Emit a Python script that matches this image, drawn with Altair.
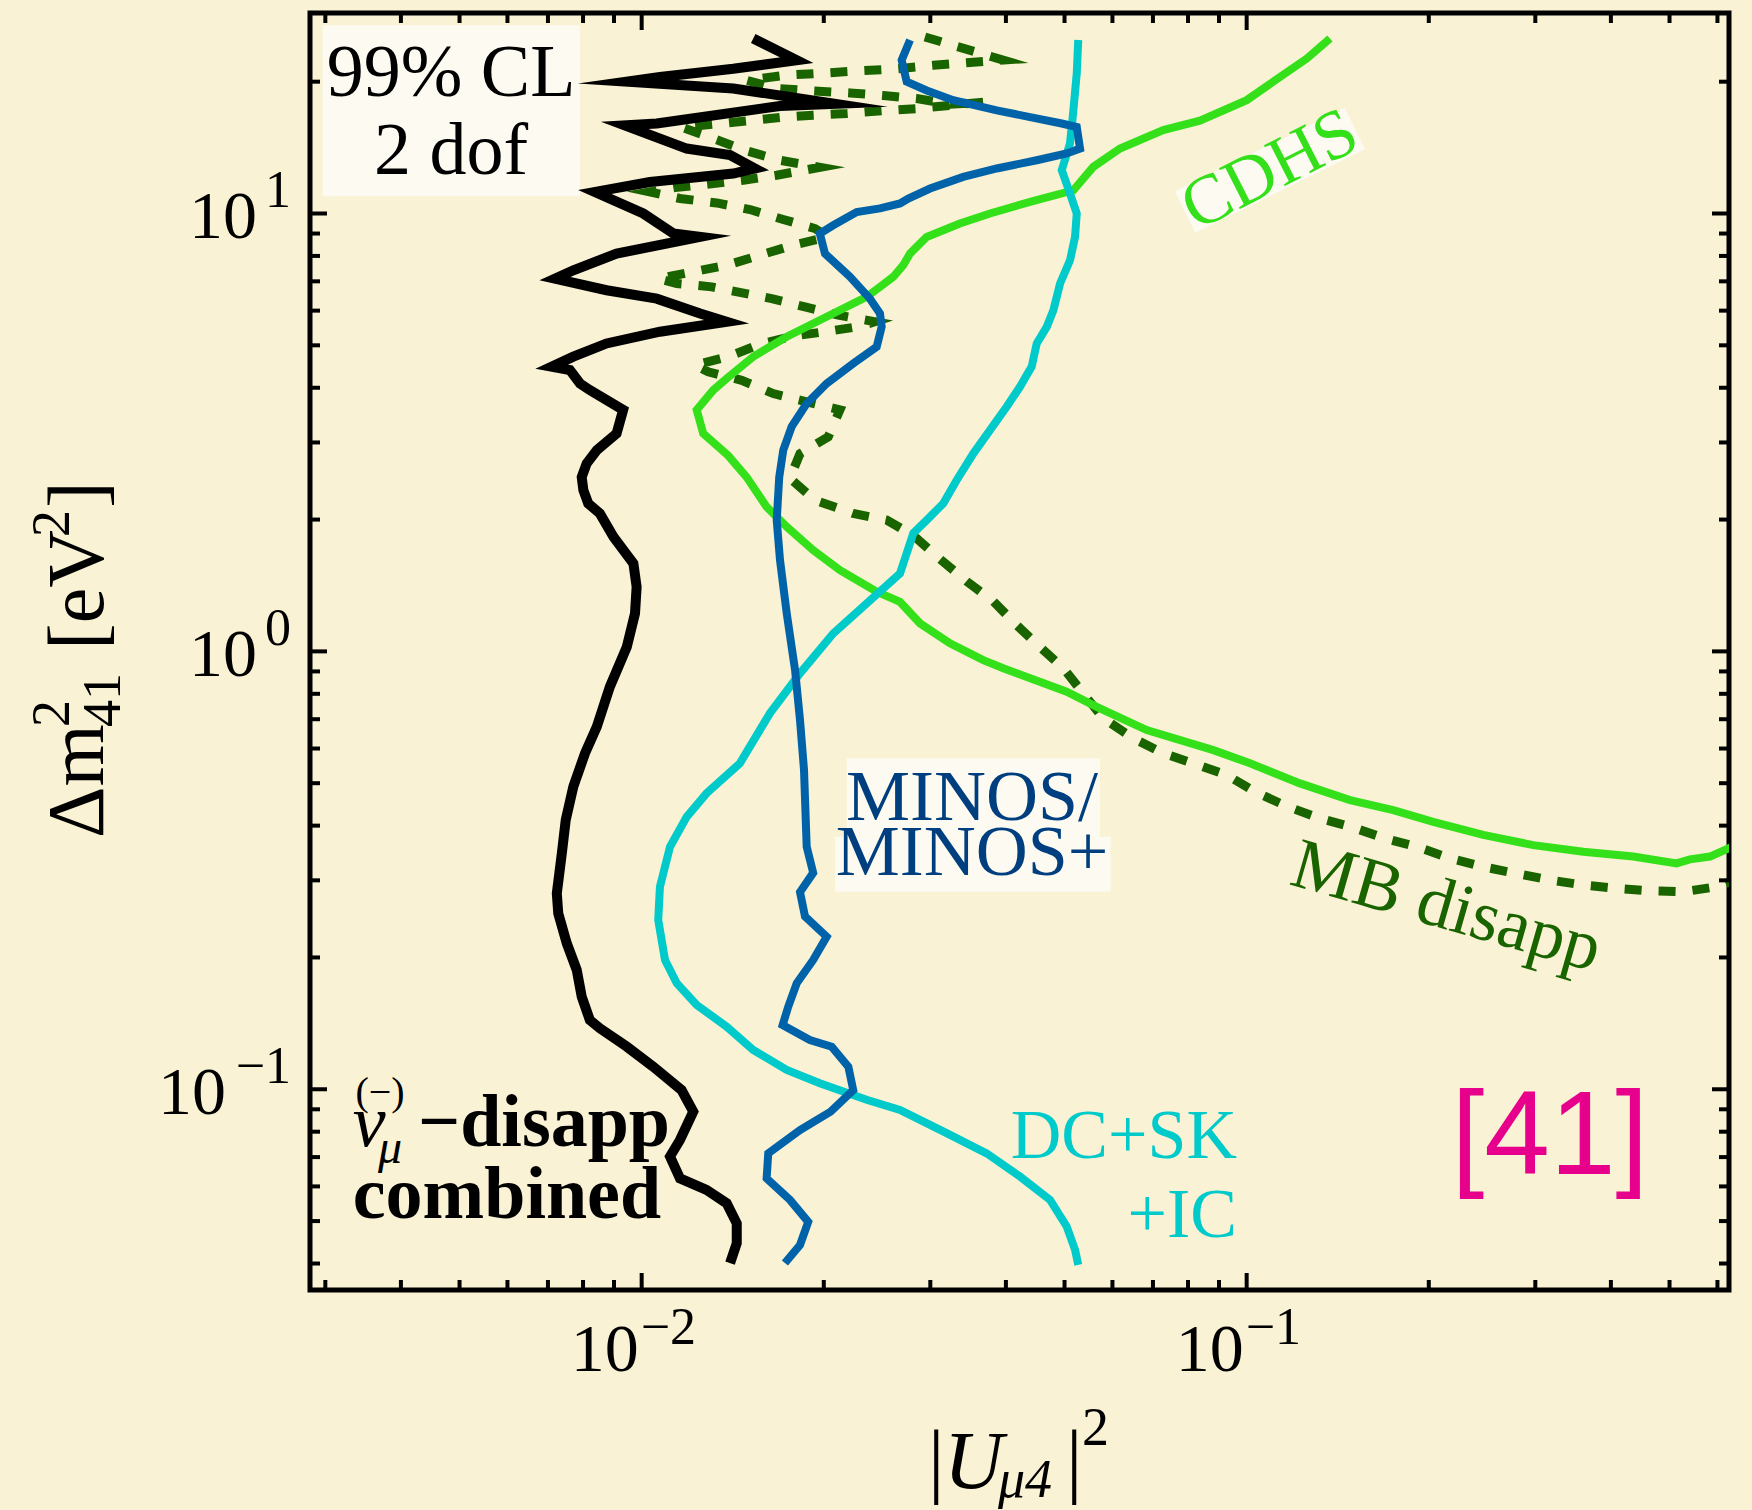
import altair as alt
import pandas as pd

# Exclusion contours at 99% CL (2 dof) in the (|U_mu4|^2, Delta m^2_41) plane.
combined_u = [0.01529, 0.01804, 0.01417, 0.01072, 0.00945, 0.01417, 0.02087, 0.01693, 0.01059, 0.00938,
              0.01187, 0.01400, 0.01539, 0.01417, 0.01032, 0.00837, 0.01006, 0.01128, 0.01249, 0.00909,
              0.00771, 0.00719, 0.00875, 0.01059, 0.01249, 0.01382, 0.01072, 0.00875, 0.00771, 0.00710,
              0.00761, 0.00791, 0.00821, 0.00932, 0.00909, 0.00843, 0.00811, 0.00796, 0.00801, 0.00816,
              0.00853, 0.00898, 0.00969, 0.00981, 0.00975, 0.00945, 0.00886, 0.00843, 0.00806, 0.00771,
              0.00749, 0.00738, 0.00724, 0.00728, 0.00752, 0.00781, 0.00796, 0.00821, 0.00853, 0.00945,
              0.01045, 0.01164, 0.01217, 0.01157, 0.01114, 0.01157, 0.01280, 0.01382, 0.01436, 0.01436,
              0.01400]
combined_dm2 = [25.1, 22.4, 21.4, 20.5, 20.0, 19.3, 17.8, 17.6, 16.05, 15.9,
                14.07, 13.59, 12.67, 12.34, 11.80, 11.2, 10.0, 9.0, 8.84, 8.10,
                7.42, 7.10, 6.68, 6.39, 5.91, 5.66, 5.37, 5.05, 4.71, 4.47,
                4.39, 4.09, 3.95, 3.56, 3.145, 2.88, 2.685, 2.50, 2.335, 2.177,
                2.065, 1.827, 1.588, 1.404, 1.221, 1.024, 0.830, 0.673, 0.585, 0.491,
                0.412, 0.346, 0.280, 0.2522, 0.2154, 0.1873, 0.1627, 0.1439, 0.1378, 0.1251,
                0.1126, 0.0996, 0.0889, 0.0766, 0.0702, 0.0626, 0.0589, 0.0549, 0.0494, 0.0445,
                0.0401]

minos_u = [0.02777, 0.02690, 0.02742, 0.02959, 0.03273, 0.03863, 0.04385, 0.04947, 0.05238, 0.05304,
           0.05041, 0.04498, 0.03863, 0.03400, 0.02997, 0.02759, 0.02673, 0.02477, 0.02267, 0.02073,
           0.01970, 0.02009, 0.02210, 0.02384, 0.02477, 0.02493, 0.02446, 0.02237, 0.02022, 0.01874,
           0.01770, 0.01714, 0.01688, 0.01672, 0.01693, 0.01737, 0.01793, 0.01827, 0.01855, 0.01874,
           0.01921, 0.01827, 0.01862, 0.02022, 0.01921, 0.01804, 0.01747, 0.01710, 0.01897, 0.02061,
           0.02196, 0.02237, 0.02053, 0.01827, 0.01619, 0.01609, 0.01758, 0.01885, 0.01827, 0.01725]
minos_dm2 = [24.9, 22.4, 20.0, 19.1, 18.15, 17.2, 16.6, 16.05, 15.76, 14.07,
             13.71, 13.23, 12.67, 12.12, 11.40, 10.82, 10.54, 10.27, 10.08, 9.40,
             9.00, 8.10, 7.17, 6.39, 5.91, 5.51, 4.96, 4.545, 4.09, 3.68,
             3.26, 2.88, 2.50, 1.994, 1.617, 1.221, 0.906, 0.697, 0.536, 0.358,
             0.312, 0.282, 0.248, 0.2231, 0.1974, 0.1746, 0.1544, 0.1402, 0.1296, 0.1251,
             0.1126, 0.0996, 0.0889, 0.0807, 0.0714, 0.0626, 0.0559, 0.0498, 0.0441, 0.0401]

atm_u = [0.05268, 0.05238, 0.05171, 0.05105, 0.04947, 0.05105, 0.05238, 0.05204, 0.05105, 0.04916,
         0.04792, 0.04673, 0.04498, 0.04413, 0.04220, 0.04011, 0.03765, 0.03533, 0.03316, 0.03151,
         0.02959, 0.02812, 0.02673, 0.02354, 0.02073, 0.01827, 0.01629, 0.01453, 0.01280, 0.01187,
         0.01114, 0.01072, 0.01065, 0.01093, 0.01143, 0.01233, 0.01382, 0.01529, 0.01737, 0.01970,
         0.02354, 0.02673, 0.03192, 0.03717, 0.04220, 0.04732, 0.05041, 0.05204, 0.05268]
atm_dm2 = [24.9, 20.9, 17.2, 14.45, 12.56, 11.11, 10.0, 8.84, 7.82, 6.92,
           6.01, 5.51, 5.05, 4.47, 4.02, 3.62, 3.20, 2.83, 2.46, 2.177,
           1.994, 1.861, 1.506, 1.287, 1.099, 0.891, 0.722, 0.555, 0.474, 0.419,
           0.358, 0.290, 0.2435, 0.1974, 0.1746, 0.1558, 0.139, 0.1230, 0.1107, 0.1032,
           0.0946, 0.0897, 0.0794, 0.0714, 0.0632, 0.0559, 0.0486, 0.0430, 0.0397]

cdhs_u = [0.1373, 0.1258, 0.1135, 0.1000, 0.0837, 0.0728, 0.06175, 0.05578, 0.05171, 0.04385,
          0.03765, 0.03357, 0.02959, 0.02777, 0.02706, 0.02606, 0.02477, 0.02354, 0.02022, 0.01737,
          0.01529, 0.01382, 0.01313, 0.01233, 0.01264, 0.01390, 0.01491, 0.01609, 0.01737, 0.01921,
          0.02127, 0.02446, 0.02673, 0.02884, 0.03233, 0.03670, 0.03960, 0.05041, 0.05651, 0.06836,
          0.0881, 0.1013, 0.1225, 0.1482, 0.1747, 0.2034, 0.2461, 0.2977, 0.3601, 0.4355,
          0.5136, 0.5403, 0.5832, 0.64]
cdhs_dm2 = [25.1, 22.6, 20.5, 18.15, 16.3, 15.5, 14.07, 12.78, 11.30, 10.63,
            10.0, 9.49, 8.84, 8.10, 7.62, 7.17, 6.80, 6.45, 5.81, 5.23,
            4.71, 4.20, 3.95, 3.56, 3.145, 2.80, 2.50, 2.138, 1.925, 1.703,
            1.533, 1.368, 1.297, 1.159, 1.043, 0.955, 0.915, 0.809, 0.747, 0.661,
            0.595, 0.555, 0.4995, 0.4575, 0.434, 0.408, 0.381, 0.361, 0.3487, 0.340,
            0.328, 0.335, 0.340, 0.360]

mb_u = [0.02939, 0.03960, 0.03444, 0.03034, 0.02639, 0.02324, 0.01970, 0.01737, 0.01491, 0.01672,
        0.01921, 0.02210, 0.02508, 0.02848, 0.03233, 0.03670, 0.02848, 0.02508, 0.02182, 0.01921,
        0.01693, 0.01491, 0.01313, 0.01164, 0.01313, 0.01491, 0.01693, 0.01970, 0.01672, 0.01472,
        0.01280, 0.01135, 0.01032, 0.01157, 0.01330, 0.01510, 0.01714, 0.01934, 0.02034, 0.01781,
        0.01569, 0.01382, 0.01217, 0.01065, 0.01143, 0.01305, 0.01481, 0.01640, 0.01862, 0.02113,
        0.02430, 0.02310, 0.02009, 0.01781, 0.01569, 0.01390, 0.01225, 0.01288, 0.01463, 0.01650,
        0.01874, 0.02127, 0.02034, 0.01827, 0.01758, 0.01934, 0.02237, 0.02541, 0.02812, 0.03112,
        0.03444, 0.03812, 0.04167, 0.04553, 0.04978, 0.05370, 0.05794, 0.06497, 0.0728, 0.08165,
        0.0927, 0.1032, 0.1164, 0.1322, 0.1500, 0.1693, 0.1910, 0.2168, 0.2461, 0.2795,
        0.3171, 0.3601, 0.4089, 0.4642, 0.5267, 0.5983, 0.627]
mb_dm2 = [25.3, 22.4, 22.1, 21.8, 21.4, 21.2, 20.9, 20.7, 20.15, 19.3,
          19.05, 18.85, 18.6, 18.3, 17.77, 17.96, 17.36, 17.17, 16.92, 16.77,
          16.57, 16.27, 15.99, 15.74, 14.83, 13.90, 13.23, 12.75, 12.23, 11.91,
          11.66, 11.46, 11.2, 10.82, 10.57, 10.21, 9.69, 9.24, 8.84, 8.47,
          8.03, 7.62, 7.36, 7.10, 6.92, 6.80, 6.57, 6.39, 6.12, 5.86,
          5.66, 5.53, 5.37, 5.25, 5.03, 4.71, 4.505, 4.35, 4.16, 3.88,
          3.715, 3.56, 3.09, 2.83, 2.485, 2.215, 2.065, 1.994, 1.84, 1.625,
          1.446, 1.302, 1.148, 1.024, 0.915, 0.802, 0.703, 0.633, 0.585, 0.555,
          0.522, 0.478, 0.443, 0.4156, 0.396, 0.374, 0.358, 0.337, 0.322, 0.311,
          0.3005, 0.2927, 0.2876, 0.2840, 0.2825, 0.2900, 0.2973]

# Axis ticks and labels
x_major = [0.01, 0.1]
x_exp = ["\u22122", "\u22121"]
x_minor = [0.003, 0.004, 0.005, 0.006, 0.007, 0.008, 0.009,
           0.02, 0.03, 0.04, 0.05, 0.06, 0.07, 0.08, 0.09,
           0.2, 0.3, 0.4, 0.5, 0.6]
y_major = [0.1, 1, 10]
y_exp = ["\u22121", "0", "1"]
y_minor = [0.04, 0.05, 0.06, 0.07, 0.08, 0.09,
           0.2, 0.3, 0.4, 0.5, 0.6, 0.7, 0.8, 0.9,
           2, 3, 4, 5, 6, 7, 8, 9, 20]

W, H = 1419, 1277
xs = alt.Scale(type="log", domain=[0.00283, 0.627], nice=False)
ys = alt.Scale(type="log", domain=[0.0348, 28.7], nice=False)
SERIF = "Liberation Serif"
BG = "#FAF2D4"
BOX = "#FCFAF1"
one = pd.DataFrame({"k": [0]})


def X(field="v"):
    return alt.X(f"{field}:Q", scale=xs, axis=None)


def Y(field="v"):
    return alt.Y(f"{field}:Q", scale=ys, axis=None)


def curve(u, dm2, color, width, dash=None):
    df = pd.DataFrame({"u": u, "dm2": dm2, "i": list(range(len(u)))})
    kw = dict(color=color, strokeWidth=width, clip=True, strokeJoin="miter", strokeMiterLimit=20)
    if dash:
        kw["strokeDash"] = dash
    return alt.Chart(df).mark_line(**kw).encode(x=X("u"), y=Y("dm2"), order="i:Q")


def label(text, u, m, size, color="black", **kw):
    """Text anchored at a point (u, dm2) of the plane."""
    kw.setdefault("font", SERIF)
    kw.setdefault("baseline", "alphabetic")
    at = pd.DataFrame({"u": [u], "m": [m]})
    return alt.Chart(at).mark_text(text=text, fontSize=size, color=color, **kw).encode(
        x=X("u"), y=Y("m"))


def ptext(text, px, py, size, **kw):
    """Text placed in the margin, in pixels from the top-left corner of the frame."""
    kw.setdefault("font", SERIF)
    kw.setdefault("baseline", "alphabetic")
    kw.setdefault("align", "left")
    return alt.Chart(one).mark_text(text=text, fontSize=size, color="black", **kw).encode(
        x=alt.value(px), y=alt.value(py))


def box(u1, u2, m1, m2):
    at = pd.DataFrame({"u": [u1], "u2": [u2], "m": [m1], "m2": [m2]})
    return alt.Chart(at).mark_rect(color=BOX).encode(
        x=X("u"), x2="u2:Q", y=Y("m"), y2="m2:Q")


def xticks(vals, length):
    base = alt.Chart(pd.DataFrame({"v": vals})).mark_rule(color="black", strokeWidth=4)
    return [base.encode(x=X(), y=alt.value(H), y2=alt.value(H - length)),
            base.encode(x=X(), y=alt.value(0), y2=alt.value(length))]


def yticks(vals, length):
    base = alt.Chart(pd.DataFrame({"v": vals})).mark_rule(color="black", strokeWidth=4)
    return [base.encode(y=Y(), x=alt.value(0), x2=alt.value(length)),
            base.encode(y=Y(), x=alt.value(W), x2=alt.value(W - length))]


layers = []

# label backgrounds
layers.append(box(0.00297, 0.00791, 10.95, 26.9))
layers.append(box(0.02182, 0.0572, 0.570, 0.3773))
layers.append(box(0.02087, 0.05959, 0.3773, 0.2826))
cdhs_band = pd.DataFrame({"u": [0.0791], "u2": [0.151], "m": [10.08], "m2": [15.63]})
layers.append(alt.Chart(cdhs_band).mark_rule(color=BOX, strokeWidth=46, strokeCap="butt").encode(
    x=X("u"), x2="u2:Q", y=Y("m"), y2="m2:Q"))

# contours
layers.append(curve(mb_u, mb_dm2, "#1A6400", 9, dash=[17, 17]))
layers.append(curve(cdhs_u, cdhs_dm2, "#33E01A", 8))
layers.append(curve(atm_u, atm_dm2, "#00CACA", 8))
layers.append(curve(minos_u, minos_dm2, "#0063AA", 8))
layers.append(curve(combined_u, combined_dm2, "black", 10))

# ticks
layers += xticks(x_major, 17) + xticks(x_minor, 10)
layers += yticks(y_major, 17) + yticks(y_minor, 10)

# tick labels
xl = pd.DataFrame({"v": x_major, "e": x_exp})
layers.append(alt.Chart(xl).mark_text(text="10", align="right", baseline="alphabetic", fontSize=68,
                                      font=SERIF, dx=-3, color="black").encode(x=X(), y=alt.value(H + 81)))
layers.append(alt.Chart(xl).mark_text(align="left", baseline="alphabetic", fontSize=52,
                                      font=SERIF, dx=-1, color="black").encode(x=X(), y=alt.value(H + 54), text="e:N"))
yl = pd.DataFrame({"v": y_major, "e": y_exp})
layers.append(alt.Chart(yl).transform_filter("datum.v >= 1").mark_text(
    text="10", align="right", baseline="alphabetic", fontSize=68, font=SERIF, dy=25, color="black").encode(
    y=Y(), x=alt.value(-53)))
layers.append(alt.Chart(yl).transform_filter("datum.v < 1").mark_text(
    text="10", align="right", baseline="alphabetic", fontSize=68, font=SERIF, dy=25, color="black").encode(
    y=Y(), x=alt.value(-84)))
layers.append(alt.Chart(yl).mark_text(align="right", baseline="alphabetic", fontSize=52, font=SERIF,
                                      dy=-6, color="black").encode(y=Y(), x=alt.value(-19), text="e:N"))

# axis titles
layers += [
    ptext("|", 618, 1474, 82),
    ptext("U", 634, 1475, 82, fontStyle="italic"),
    ptext("\u03bc4", 688, 1484, 54, fontStyle="italic"),
    ptext("|", 756, 1474, 82),
    ptext("2", 772, 1432, 54),
    ptext("\u0394m", -207, 825, 80, angle=270),
    ptext("2", -241, 714, 54, angle=270),
    ptext("41", -190, 714, 54, angle=270),
    ptext("[eV", -207, 637, 80, angle=270),
    ptext("2", -241, 524, 54, angle=270),
    ptext("]", -207, 495, 80, angle=270),
]

# annotations
layers += [
    label("99% CL", 0.00484, 18.53, 74, align="center"),
    label("2 dof", 0.00484, 12.29, 74, align="center"),
    label("MINOS/", 0.03516, 0.412, 72, color="#003F7F", align="center"),
    label("MINOS+", 0.03516, 0.3085, 72, color="#003F7F", align="center"),
    label("CDHS", 0.1093, 12.56, 70, color="#33E01A", align="center", baseline="middle", angle=333),
    label("MB disapp", 0.2141, 0.2611, 72, color="#1A6400", align="center", baseline="middle", angle=16),
    label("DC+SK", 0.0964, 0.0697, 70, color="#00CACA", align="right"),
    label("+IC", 0.0964, 0.046, 70, color="#00CACA", align="right"),
    label("[41]", 0.3172, 0.0641, 118, color="#E6008C", align="center", font="Liberation Sans"),
    label("\u03bd", 0.00333, 0.0742, 74, align="left", fontStyle="italic"),
    label("(\u2212)", 0.003694, 0.0921, 40, align="center"),
    label("\u03bc", 0.003665, 0.0679, 48, align="left", fontStyle="italic"),
    label("\u2212disapp", 0.004269, 0.0742, 74, align="left", fontWeight="bold"),
    label("combined", 0.00333, 0.0508, 74, align="left", fontWeight="bold"),
]

chart = alt.layer(*layers).properties(
    width=W, height=H, background=BG,
    padding={"left": 310, "top": 13, "right": 23, "bottom": 220},
    autosize=alt.AutoSizeParams(type="none"),
).configure_view(stroke="black", strokeWidth=5)

chart.save("out.html", embed_options={"renderer": "svg", "actions": False})
